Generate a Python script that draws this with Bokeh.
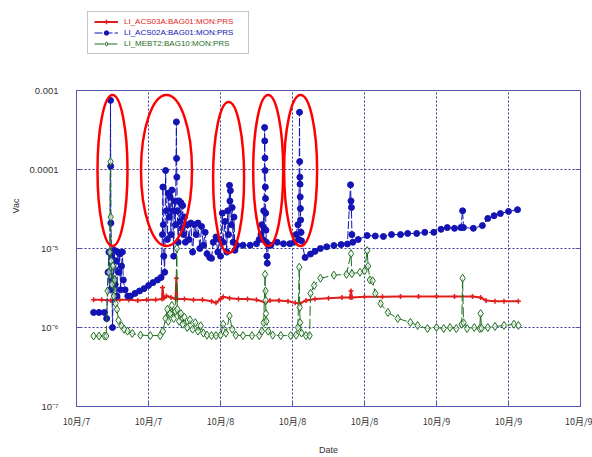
from bokeh.plotting import figure
from bokeh.models import FixedTicker, LogAxis, Legend, LegendItem, BoxAnnotation, Span
from bokeh.embed import file_html
from bokeh.resources import INLINE

# ---------------- data (time in hours from 10/7 08:00) ----------------
x_ticks = [0, 8, 16, 24, 32, 40, 48, 56]
x_labels = ["10月/7", "10月/7", "10月/8", "10月/8", "10月/8", "10月/9", "10月/9", "10月/9"]
y_ticks = [1e-7, 1e-6, 1e-5, 1e-4, 1e-3]
y_labels = ["10⁻⁷", "10⁻⁶", "10⁻⁵", "0.0001", "0.001"]

series_names = ["LI_ACS03A:BAG01:MON:PRS", "LI_ACS02A:BAG01:MON:PRS", "LI_MEBT2:BAG10:MON:PRS"]

red_t = [1.9, 2.8, 3.8, 4.8, 5.8, 6.8, 7.8, 8.8, 9.5, 9.56, 9.7, 10.0, 10.5, 11.0, 11.1, 11.2,
         12.0, 13.0, 14.0, 15.0, 15.5, 16.0, 16.3, 17.0, 18.0, 19.0, 20.0, 21.0, 21.5, 22.5,
         23.5, 24.3, 24.8, 25.5, 26.5, 28.0, 29.5, 30.4, 30.5, 30.6, 32.0, 34.0, 36.0, 38.0,
         40.0, 42.0, 44.0, 44.9, 45.5, 46.5, 47.5, 49.1]
red_v = [2.25e-6, 2.25e-6, 2.2e-6, 2.25e-6, 2.25e-6, 2.2e-6, 2.25e-6, 2.25e-6, 2.3e-6, 3.2e-6,
         2.35e-6, 2.5e-6, 2.4e-6, 2.3e-6, 4.2e-6, 2.3e-6,
         2.3e-6, 2.25e-6, 2.25e-6, 2.15e-6, 2.05e-6, 2.3e-6, 2.45e-6, 2.35e-6, 2.3e-6, 2.3e-6,
         2.25e-6, 2.07e-6, 2.2e-6, 2.2e-6,
         2.15e-6, 2.05e-6, 2.0e-6, 2.2e-6, 2.3e-6, 2.35e-6, 2.4e-6, 2.4e-6, 2.9e-6, 2.4e-6,
         2.45e-6, 2.45e-6, 2.47e-6, 2.47e-6,
         2.47e-6, 2.47e-6, 2.47e-6, 2.4e-6, 2.2e-6, 2.15e-6, 2.15e-6, 2.15e-6]

blue_t = [1.9, 2.5, 3.1, 3.35,
          3.5, 3.6, 3.7, 3.78, 3.8, 3.82, 3.9, 4.0, 4.1, 4.2, 4.3, 4.4, 4.5, 4.6, 4.7, 4.8, 4.9, 5.0, 5.1, 5.2, 5.4,
          5.7, 6.0, 6.5, 7.0, 7.5, 8.0, 8.5, 9.0, 9.4,
          9.55, 9.6, 9.65, 9.7, 9.8, 9.9, 10.0, 10.1, 10.2, 10.3, 10.4, 10.5, 10.6, 10.7, 10.8,
          10.9, 11.0, 11.1, 11.12, 11.15, 11.2, 11.3, 11.4, 11.5, 11.6, 11.7, 11.8, 11.9, 12.0, 12.1,
          12.3, 12.5, 12.7, 12.9, 13.1, 13.3, 13.5, 13.7, 13.9, 14.1, 14.3, 14.5, 14.8, 15.0, 15.2,
          15.5, 15.7, 15.9,
          16.0, 16.2, 16.3, 16.5, 16.7, 16.8, 16.9, 17.0, 17.05, 17.1, 17.2, 17.3, 17.4, 17.5, 17.6,
          17.8, 18.5, 19.3, 20.0, 20.3,
          20.5, 20.6, 20.7, 20.8, 20.85, 20.9, 20.92, 20.94, 20.96, 20.98, 21.0, 21.02, 21.05, 21.1,
          21.15, 21.2, 21.3,
          21.6, 22.3, 23.0, 23.7, 24.2,
          24.4, 24.6, 24.7, 24.78, 24.8, 24.82, 24.84, 24.86, 24.88, 24.9, 24.95, 25.0,
          25.4, 26.0, 26.5, 27.1, 27.8, 28.6, 29.4, 30.1, 30.45, 30.5, 30.55, 30.6, 30.7, 31.3,
          32.3, 33.2, 34.1, 35.0, 36.0, 36.8, 37.8, 38.7, 39.7, 40.5, 41.2, 42.0, 42.7, 42.9,
          43.0, 44.1, 45.1, 45.7, 46.4, 47.1, 48.0, 49.0]
blue_v = [1.55e-6, 1.55e-6, 1.55e-6, 1.3e-6,
          5e-6, 9e-6, 3e-6, 7.5e-4, 1.1e-4, 2.1e-5, 8e-6, 1.0e-6, 4e-6, 9.5e-6, 3.5e-6, 7e-6, 2.5e-6,
          9e-6, 5e-6, 8.5e-6, 3e-6, 6e-6, 9e-6, 4e-6, 3e-6,
          2.5e-6, 2.5e-6, 2.7e-6, 2.9e-6, 3.1e-6, 3.4e-6, 3.7e-6, 4.0e-6, 4.3e-6,
          1.5e-5, 6.0e-5, 2.0e-5, 8e-6, 5e-6, 9.7e-5, 3e-5, 1.3e-5, 5e-5, 2.5e-5, 4.5e-5, 1.5e-5,
          5.5e-5, 3e-5, 8e-6,
          4e-5, 2e-5, 4.0e-4, 1.38e-4, 8e-5, 3e-5, 1.2e-5, 4e-5, 2.2e-5, 3.8e-5, 1.8e-5, 3.5e-5,
          1.5e-5, 2.5e-5, 1.2e-5,
          2.0e-5, 1.3e-5, 2.1e-5, 9e-6, 2.0e-5, 1.5e-5, 2.1e-5, 1.0e-5, 1.9e-5, 1.1e-5, 1.6e-5,
          8.6e-6, 7.7e-6, 7.5e-6, 1.2e-5,
          1.4e-5, 9e-6, 1.3e-5,
          8e-6, 2.8e-5, 1.2e-5, 2.2e-5, 9e-6, 3.0e-5, 1.5e-5, 6.3e-5, 4.0e-5, 5.4e-5, 2.0e-5,
          3.3e-5, 1.2e-5, 2.5e-5, 9.5e-6,
          1.1e-5, 1.1e-5, 1.1e-5, 1.15e-5, 1.3e-5,
          1.5e-5, 2.0e-5, 1.3e-5, 3.0e-5, 1.8e-5, 3.4e-4, 2.3e-4, 1.4e-4, 9.7e-5, 6e-5, 4.3e-5,
          2.8e-5, 1.7e-5, 1.2e-5,
          8e-6, 6.5e-6, 1.1e-5,
          1.1e-5, 1.2e-5, 1.15e-5, 1.15e-5, 1.2e-5,
          1.5e-5, 2.0e-5, 1.3e-5, 5.3e-4, 1.26e-4, 8.0e-5, 6.5e-5, 4.5e-5, 3.2e-5, 2.3e-5, 1.6e-5, 1.25e-5,
          7.7e-6, 8.5e-6, 9.2e-6, 1.0e-5, 1.05e-5, 1.09e-5, 1.12e-5, 1.14e-5, 6.4e-5, 4.0e-5,
          3.3e-5, 1.5e-5, 1.2e-5, 1.3e-5,
          1.46e-5, 1.44e-5, 1.42e-5, 1.5e-5, 1.5e-5, 1.55e-5, 1.55e-5, 1.6e-5, 1.6e-5, 1.75e-5,
          1.84e-5, 1.8e-5, 1.84e-5, 3.0e-5,
          1.84e-5, 1.8e-5, 1.95e-5, 2.4e-5, 2.6e-5, 2.77e-5, 2.95e-5, 3.1e-5]

green_t = [1.9, 2.5, 3.1, 3.3,
           3.45, 3.6, 3.7, 3.78, 3.8, 3.85, 3.95, 4.05, 4.15, 4.25, 4.35, 4.5, 4.67, 5.0, 5.3, 5.67,
           6.2, 7.1, 8.2, 9.3,
           9.6, 9.9, 10.1, 10.2, 10.4, 10.6, 10.8, 11.0, 11.15, 11.2, 11.4, 11.6, 11.8, 12.0, 12.3,
           12.6, 12.9, 13.2, 13.5, 13.8, 14.1, 14.5, 15.0, 15.5,
           16.0, 16.3, 16.6, 17.0, 17.3, 17.7, 18.5, 19.5, 20.3,
           20.6, 20.8, 20.95, 21.0, 21.02, 21.05, 21.1, 21.3, 21.8, 22.7, 23.8, 24.4,
           24.6, 24.75, 24.8, 24.85, 25.0, 25.5, 25.9,
           26.0, 26.4, 27.1, 28.6, 30.0, 30.5, 30.6, 31.5, 32.0, 32.3, 32.4, 32.6,
           32.9, 33.2, 33.8, 34.6, 35.7, 37.1, 37.9, 39.0, 40.0, 40.8, 41.5, 42.2, 42.8, 42.9,
           43.0, 43.4, 44.2, 44.8, 44.9, 45.0, 45.7, 46.5, 47.5, 48.6, 49.1]
green_v = [7.8e-7, 7.8e-7, 7.8e-7, 7.8e-7,
           2.9e-6, 5e-6, 9e-6, 1.26e-4, 2.5e-5, 7e-6, 3.5e-6, 6e-6, 2.5e-6, 4e-6, 2.0e-6, 1.7e-6,
           1.23e-6, 1.05e-6, 9.5e-7, 9.0e-7,
           8.4e-7, 8.0e-7, 7.9e-7, 7.9e-7,
           9e-7, 1.3e-6, 1.7e-6, 1.2e-6, 1.5e-6, 1.9e-6, 1.3e-6, 1.6e-6, 1.0e-5, 1.7e-6, 1.2e-6,
           1.5e-6, 1.1e-6, 1.35e-6, 1.0e-6,
           1.25e-6, 9.5e-7, 1.15e-6, 9e-7, 1.05e-6, 8.5e-7, 8.0e-7, 7.9e-7, 7.9e-7,
           8.0e-7, 1.1e-6, 8.5e-7, 1.4e-6, 9.5e-7, 8.0e-7, 7.9e-7, 7.9e-7, 7.9e-7,
           9e-7, 1.15e-6, 4.7e-6, 2.9e-6, 2.2e-6, 1.5e-6, 1.2e-6, 9e-7, 8.0e-7, 7.9e-7, 7.9e-7, 8.0e-7,
           1.0e-6, 5.8e-6, 1.8e-6, 1.15e-6, 8.5e-7, 7.9e-7, 7.9e-7,
           2.7e-6, 3.4e-6, 4.2e-6, 4.6e-6, 4.7e-6, 8.6e-6, 4.8e-6, 5.0e-6, 5.2e-6, 9.4e-6, 6e-6, 4e-6,
           3.9e-6, 2.7e-6, 2.0e-6, 1.55e-6, 1.3e-6, 1.16e-6, 1.06e-6, 9.7e-7, 1.0e-6, 9.7e-7,
           1.0e-6, 9.7e-7, 1.1e-6, 4.2e-6,
           1.15e-6, 9.7e-7, 1.0e-6, 9.7e-7, 1.5e-6, 9.8e-7, 1.0e-6, 1.03e-6, 1.06e-6, 1.1e-6, 1.06e-6]

# highlighted events (ellipse centres)
ell_t = [4.0, 10.0, 16.9, 21.3, 24.9]
ell_v = [9.7e-5, 9.7e-5, 7.9e-5, 9.7e-5, 9.7e-5]

# ---------------- styles ----------------
AX = "#5656aa"
GRID = "#3a3a96"
TXT = "#333333"
RED = "#e01e1e"
BLUE = "#1414b4"
GREEN = "#1e6e1e"
ELL = "#ff0000"

# the frame also holds the legend strip above the 0.001 line (79 px per decade)
Y_LO, Y_HI = y_ticks[0], y_ticks[-1]
y_frame_top = 10 ** (-7 + 401 / 79)

p = figure(width=592, height=457, x_range=(x_ticks[0], x_ticks[-1]), y_range=(Y_LO, y_frame_top),
           y_axis_type="log", output_backend="svg", toolbar_location=None,
           min_border_left=76, min_border_right=12, min_border_top=5, min_border_bottom=51)
p.outline_line_color = None
p.background_fill_color = "white"

# grid: horizontal via the axis ticker, vertical drawn only inside the data box
p.yaxis.ticker = FixedTicker(ticks=y_ticks)
p.ygrid.grid_line_color = GRID
p.ygrid.grid_line_dash = "2 2"
p.xgrid.visible = False
p.segment(x0=x_ticks[1:-1], y0=Y_LO, x1=x_ticks[1:-1], y1=Y_HI,
          line_color=GRID, line_dash="2 2", line_width=1)

r_line = p.line(red_t, red_v, color=RED, line_width=2)
r_pts = p.scatter(red_t, red_v, marker="cross", size=5, line_color=RED, line_width=1.5)
b_line = p.line(blue_t, blue_v, color=BLUE, line_width=1, line_dash="8 2")
b_pts = p.scatter(blue_t, blue_v, marker="circle", size=6, color=BLUE)
g_line = p.line(green_t, green_v, color=GREEN, line_width=1, line_dash="10 3")
g_pts = p.scatter(green_t, green_v, marker="diamond", size=8, line_color=GREEN,
                  fill_color="white", fill_alpha=0.6, line_width=1)
p.ellipse(x=ell_t, y=ell_v, width=[30, 51, 31, 30, 33], height=151,
          width_units="screen", height_units="screen",
          fill_color=None, line_color=ELL, line_width=2.5)

# top edge of the data box
p.add_layout(Span(location=Y_HI, dimension="width", line_color=AX, line_width=1))

p.xaxis.ticker = FixedTicker(ticks=x_ticks)
p.xaxis.major_label_overrides = dict(zip(x_ticks, x_labels))
p.yaxis.major_label_overrides = dict(zip(y_ticks, y_labels))
p.yaxis.bounds = (Y_LO, Y_HI)

for ax in (p.xaxis[0], p.yaxis[0]):
    ax.axis_line_color = AX
    ax.major_tick_line_color = AX
    ax.major_tick_in = 5
    ax.major_tick_out = 0
    ax.minor_tick_line_color = None
    ax.major_label_text_color = TXT
    ax.axis_label_text_color = TXT
    ax.axis_label_text_font = "Liberation Sans"
    ax.axis_label_text_font_size = "9px"
    ax.axis_label_text_font_style = "normal"

p.xaxis.major_label_text_font = "Noto Sans CJK JP"
p.xaxis.major_label_text_font_size = "9px"
p.xaxis.major_label_standoff = 8
p.xaxis.axis_label = "Date"
p.xaxis.axis_label_standoff = 14

p.yaxis.major_label_text_font = "Liberation Sans"
p.yaxis.major_label_text_font_size = "9.5px"
p.yaxis.major_label_standoff = 18
p.yaxis.axis_label = "Vac"
p.yaxis.axis_label_standoff = 5

right = LogAxis(ticker=FixedTicker(ticks=y_ticks), bounds=(Y_LO, Y_HI),
                major_label_overrides={t: "" for t in y_ticks},
                major_label_standoff=0, major_tick_in=5, major_tick_out=0,
                axis_line_color=AX, major_tick_line_color=AX, minor_tick_line_color=None)
p.add_layout(right, "right")

# ---------------- legend: one frame + one entry per series (own label colour) ----------------
p.add_layout(BoxAnnotation(left=87, right=248, top=11, bottom=53,
                           left_units="canvas", right_units="canvas",
                           top_units="canvas", bottom_units="canvas",
                           fill_color="white", fill_alpha=1, line_color="#404040", line_width=1))

entries = [(series_names[0], [r_line, r_pts], RED, 379.5),
           (series_names[1], [b_line, b_pts], BLUE, 368.5),
           (series_names[2], [g_line, g_pts], GREEN, 357.5)]
for name, rends, c, vy in entries:
    leg = Legend(items=[LegendItem(label=name, renderers=rends)],
                 location=(18, vy), margin=0, padding=0, spacing=0,
                 glyph_width=24, glyph_height=11, label_height=11, label_standoff=6,
                 label_text_font="Liberation Sans", label_text_font_size="8px",
                 label_text_color=c, border_line_alpha=0, background_fill_alpha=0)
    p.add_layout(leg, "center")

open("out.html", "w").write(file_html(p, INLINE))
